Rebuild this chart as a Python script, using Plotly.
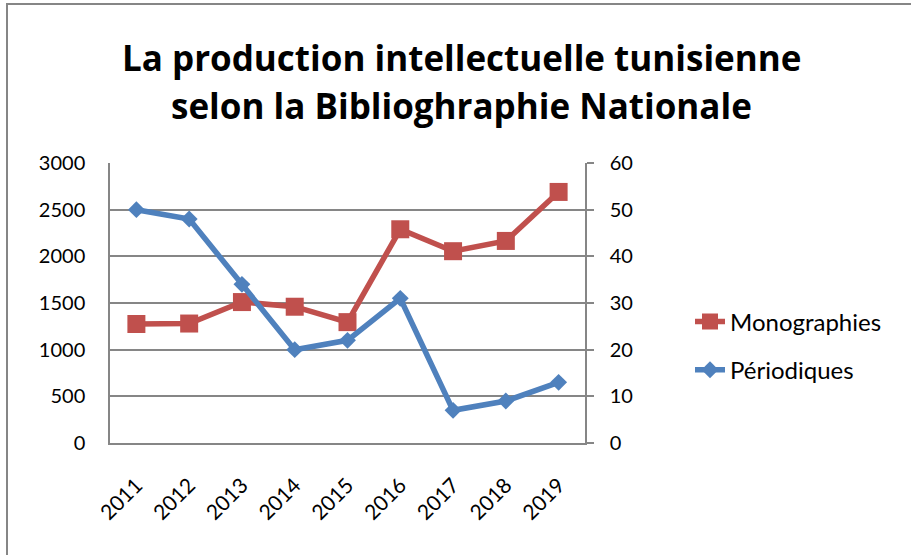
import plotly.graph_objects as go

years = ["2011", "2012", "2013", "2014", "2015", "2016", "2017", "2018", "2019"]
monographies = [1275, 1280, 1510, 1460, 1295, 2290, 2055, 2165, 2690]
periodiques = [50, 48, 34, 20, 22, 31, 7, 9, 13]
left_ticks = [0, 500, 1000, 1500, 2000, 2500, 3000]
right_ticks = [0, 10, 20, 30, 40, 50, 60]
title_lines = ["La production intellectuelle tunisienne", "selon la Biblioghraphie Nationale"]

W, H = 911, 555
L, R, T, B = 110, 326, 163, 112
pw, ph = W - L - R, H - T - B

RED = "#C0504D"
BLUE = "#4F81BD"
GRID = "#868686"
FONT = "Lato"

fig = go.Figure()
fig.add_trace(go.Scatter(
    x=years, y=monographies, name="Monographies", mode="lines+markers",
    line=dict(color=RED, width=5.5),
    marker=dict(symbol="square", size=18, color=RED),
    yaxis="y", legendgroup="m",
))
fig.add_trace(go.Scatter(
    x=years, y=periodiques, name="Périodiques", mode="lines+markers",
    line=dict(color=BLUE, width=5.5),
    marker=dict(symbol="diamond", size=13, color=BLUE),
    yaxis="y2", legendgroup="p",
))


def px_x(p):
    return (p - L) / pw


def px_y(p):
    return (H - B - p) / ph


annotations = []
for line, yc in zip(title_lines, [57, 105]):
    annotations.append(dict(
        text="<b>%s</b>" % line, xref="paper", yref="paper",
        x=px_x(461), y=px_y(yc), xanchor="center", yanchor="middle",
        showarrow=False, font=dict(family="Open Sans", size=35, color="black"),
    ))

fig.update_layout(
    width=W, height=H,
    margin=dict(l=L, r=R, t=T, b=B),
    paper_bgcolor="white", plot_bgcolor="white",
    font=dict(family=FONT, size=20, color="black"),
    annotations=annotations,
    xaxis=dict(
        type="category", range=[-0.5, 8.5],
        showgrid=False, showline=True, linecolor=GRID, linewidth=1.5,
        ticks="", tickangle=-45, tickfont=dict(size=21),
        ticklabelstandoff=20,
    ),
    yaxis=dict(
        range=[0, 3000], tickvals=left_ticks,
        showgrid=True, gridcolor=GRID, gridwidth=1.5,
        showline=True, linecolor=GRID, linewidth=1.5,
        ticks="", tickfont=dict(size=20), zeroline=False,
        ticklabelstandoff=19,
    ),
    yaxis2=dict(
        range=[0, 60], tickvals=right_ticks, overlaying="y", side="right",
        showgrid=False, showline=True, linecolor=GRID, linewidth=1.5,
        ticks="outside", ticklen=7, tickcolor=GRID, tickwidth=1.5,
        tickfont=dict(size=20), zeroline=False, ticklabelstandoff=12,
    ),
    showlegend=True,
    legend=dict(
        x=px_x(690), xanchor="left", y=px_y(346), yanchor="middle",
        font=dict(size=24), bgcolor="rgba(0,0,0,0)",
        tracegroupgap=14,
    ),
    shapes=[dict(
        type="rect", xref="paper", yref="paper",
        x0=px_x(7), x1=px_x(W + 20), y0=px_y(H + 20), y1=px_y(4),
        line=dict(color=GRID, width=2), fillcolor="rgba(0,0,0,0)", layer="below",
    )],
)

fig.write_html(
    "out.html",
    config={"displayModeBar": False},
    post_script="document.body.style.margin='0';document.body.style.overflow='hidden';",
)
